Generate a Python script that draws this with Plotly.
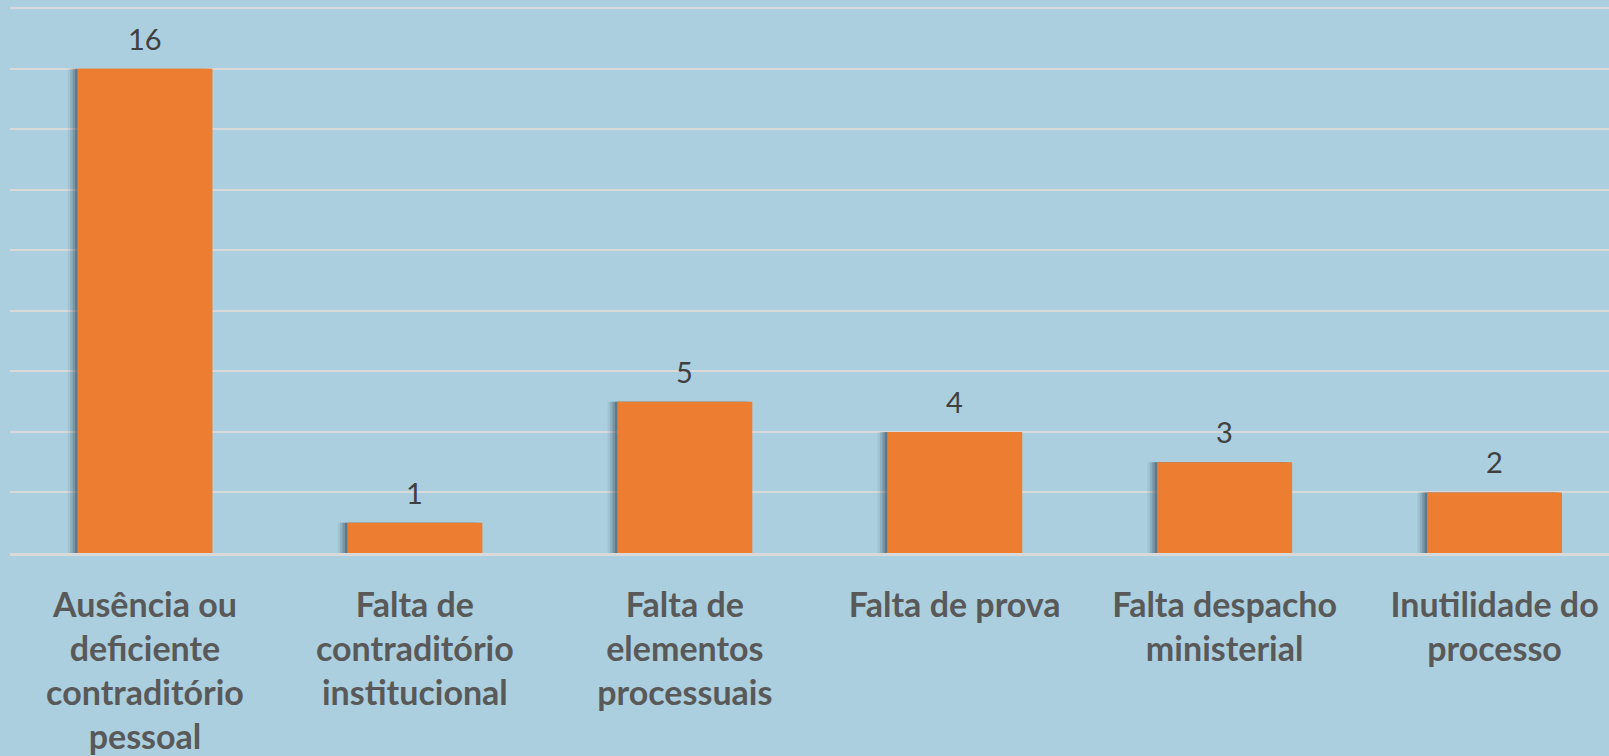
import plotly.graph_objects as go

categories = [
    "Ausência ou<br>deficiente<br>contraditório<br>pessoal",
    "Falta de<br>contraditório<br>institucional",
    "Falta de<br>elementos<br>processuais",
    "Falta de prova",
    "Falta despacho<br>ministerial",
    "Inutilidade do<br>processo",
]
values = [16, 1, 5, 4, 3, 2]

bg = "#ABCFDE"
bar_color = "#ED7D31"
grid_color = "#D9D9D9"

fig = go.Figure()

# soft shadow to the left of each bar
for k, alpha in enumerate([0.08, 0.14, 0.22, 0.3]):
    fig.add_trace(
        go.Bar(
            x=list(range(len(values))),
            y=values,
            width=0.5,
            offset=-0.25 - 0.009 * (4 - k),
            marker=dict(color=f"rgba(40,60,75,{alpha})", line_width=0),
            hoverinfo="skip",
            showlegend=False,
        )
    )

fig.add_trace(
    go.Bar(
        x=list(range(len(values))),
        y=values,
        width=0.5,
        offset=-0.25,
        marker=dict(color=bar_color, line_width=0),
        showlegend=False,
    )
)

for i, v in enumerate(values):
    fig.add_annotation(
        x=i,
        y=v,
        text=str(v),
        showarrow=False,
        yanchor="bottom",
        yshift=11,
        font=dict(family="Lato", size=29, color="#404040"),
    )

fig.update_layout(
    width=1609,
    height=756,
    margin=dict(l=10, r=0, t=6, b=203),
    paper_bgcolor=bg,
    plot_bgcolor=bg,
    barmode="overlay",
    xaxis=dict(
        range=[-0.5, 5.424],
        tickmode="array",
        tickvals=list(range(len(values))),
        ticktext=categories,
        tickfont=dict(family="Lato", size=34, color="#595959", weight="bold"),
        ticks="",
        ticklabelstandoff=20,
        showgrid=False,
        showline=True,
        linecolor=grid_color,
        linewidth=3,
        layer="above traces",
        fixedrange=True,
    ),
    yaxis=dict(
        range=[0, 18.07],
        tickvals=[2, 4, 6, 8, 10, 12, 14, 16, 18],
        showgrid=True,
        gridcolor=grid_color,
        gridwidth=2,
        zeroline=False,
        showticklabels=False,
        fixedrange=True,
    ),
)

fig.write_html(
    "out.html",
    config={"displayModeBar": False},
    post_script="document.body.style.margin='0';document.body.style.overflow='hidden';",
)
